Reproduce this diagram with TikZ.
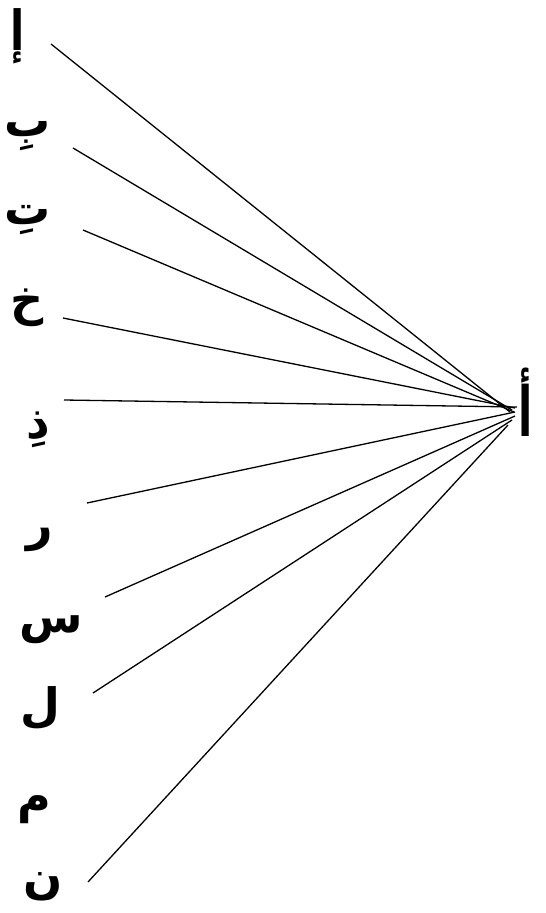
\documentclass[tikz,border=0pt]{standalone}
\usepackage{fontspec}
\usepackage{graphicx}
\newfontfamily\arabicfont[Script=Arabic]{DejaVu Sans}
\TeXXeTstate=1
\begin{document}
\begin{tikzpicture}[x=1pt,y=-1pt,
  letter/.style={inner sep=0pt,font=\arabicfont\bfseries\fontsize{46}{50}\selectfont},
  link/.style={line width=1.3pt,black}]
\useasboundingbox (0,0) rectangle (546,913);
% letters
\node[letter] (l1) at (18,36) {\scalebox{0.9}[1.2]{\beginR إ\endR}};
\node[letter] (l2) at (28,136) {\beginR بِ\endR};
\node[letter] (l3) at (28,220) {\beginR تِ\endR};
\node[letter] (l4) at (27,308) {\beginR خ\endR};
\node[letter] (l5) at (38,430) {\beginR ذِ\endR};
\node[letter] (l6) at (40,540) {\beginR ر\endR};
\node[letter] (l7) at (51,630) {\beginR س\endR};
\node[letter] (l8) at (40,708) {\beginR ل\endR};
\node[letter] (l9) at (34,810) {\beginR م\endR};
\node[letter] (l10) at (43,887) {\beginR ن\endR};
\node[letter] (alif) at (526,402) {\scalebox{0.9}[1.5]{\beginR أ\endR}};
% line ends
\coordinate (s1) at (51,44);
\coordinate (s2) at (73,148);
\coordinate (s3) at (83,230);
\coordinate (s4) at (63,318);
\coordinate (s5) at (64,400);
\coordinate (s6) at (87,503);
\coordinate (s7) at (105,597);
\coordinate (s8) at (93,693);
\coordinate (s9) at (88,882);
\coordinate (e1) at (510,412);
\coordinate (e2) at (512,410);
\coordinate (e3) at (514,412);
\coordinate (e4) at (515,408);
\coordinate (e5) at (517,407);
\coordinate (e6) at (515,412);
\coordinate (e7) at (515,416);
\coordinate (e8) at (512,420);
\coordinate (e9) at (508,425);
\foreach \i in {1,...,9} \draw[link] (s\i) -- (e\i);
\end{tikzpicture}
\end{document}
